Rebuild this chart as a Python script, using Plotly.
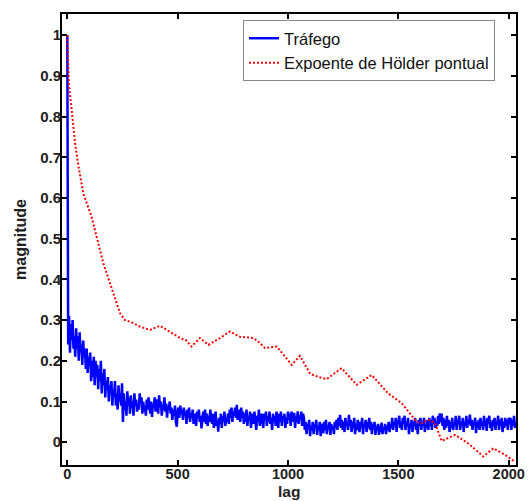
import plotly.graph_objects as go

# ---- data ----
blue_lag = [0, 1, 2, 3] + list(range(4, 2033, 4))
blue_val = [
    1.00, 0.51, 0.30, 0.31,
    0.24, 0.31, 0.22, 0.29, 0.25, 0.30, 0.23, 0.26, 0.21, 0.28,            # 4-40
    0.23, 0.26, 0.20, 0.27, 0.22, 0.24, 0.19, 0.25, 0.21, 0.23,            # 44-80
    0.18, 0.23, 0.17, 0.21, 0.19, 0.22, 0.15, 0.20, 0.16, 0.21,            # 84-120
    0.14, 0.20, 0.16, 0.19, 0.13, 0.18, 0.15, 0.20, 0.12, 0.17,            # 124-160
    0.14, 0.18, 0.11, 0.15, 0.13, 0.16, 0.10, 0.14, 0.12, 0.15,            # 164-200
    0.09, 0.13, 0.11, 0.15, 0.09, 0.12, 0.08, 0.14, 0.10, 0.12,            # 204-240
    0.09, 0.145, 0.05, 0.12, 0.08, 0.10, 0.065, 0.125, 0.09, 0.11,         # 244-280
    0.07, 0.115, 0.085, 0.10, 0.065, 0.12, 0.09, 0.105, 0.075, 0.095,      # 284-320
    0.08, 0.12, 0.095, 0.11, 0.07, 0.10, 0.075, 0.09, 0.065, 0.105,        # 324-360
    0.08, 0.11, 0.09, 0.07, 0.10, 0.062, 0.095, 0.085, 0.11, 0.075,        # 364-400
    0.09, 0.105, 0.07, 0.115, 0.085, 0.10, 0.065, 0.09, 0.08, 0.11,        # 404-440
    0.075, 0.095, 0.06, 0.09, 0.08, 0.10, 0.07, 0.085, 0.055, 0.08,        # 444-480
    0.065, 0.09, 0.05, 0.038, 0.075, 0.085, 0.06, 0.09, 0.07, 0.08,        # 484-520
    0.055, 0.085, 0.065, 0.075, 0.045, 0.08, 0.06, 0.085, 0.05, 0.07,      # 524-560
    0.06, 0.08, 0.045, 0.07, 0.055, 0.04, 0.075, 0.06, 0.08, 0.05,         # 564-600
    0.065, 0.034, 0.06, 0.075, 0.05, 0.08, 0.045, 0.07, 0.04, 0.065,       # 604-640
    0.05, 0.08, 0.06, 0.045, 0.07, 0.035, 0.06, 0.075, 0.04, 0.055,        # 644-680
    0.026, 0.06, 0.045, 0.07, 0.035, 0.065, 0.05, 0.075, 0.04, 0.06,       # 684-720
    0.05, 0.07, 0.045, 0.08, 0.06, 0.085, 0.05, 0.075, 0.065, 0.085,       # 724-760
    0.06, 0.092, 0.055, 0.08, 0.065, 0.05, 0.085, 0.06, 0.075, 0.045,      # 764-800
    0.07, 0.05, 0.08, 0.04, 0.065, 0.055, 0.075, 0.035, 0.06, 0.07,        # 804-840
    0.045, 0.075, 0.055, 0.03, 0.065, 0.05, 0.08, 0.04, 0.06, 0.07,        # 844-880
    0.05, 0.035, 0.07, 0.055, 0.075, 0.04, 0.065, 0.05, 0.075, 0.045,      # 884-920
    0.06, 0.03, 0.07, 0.05, 0.065, 0.04, 0.075, 0.055, 0.035, 0.07,        # 924-960
    0.05, 0.075, 0.04, 0.065, 0.055, 0.07, 0.035, 0.06, 0.045, 0.075,      # 964-1000
    0.055, 0.07, 0.04, 0.075, 0.06, 0.05, 0.072, 0.035, 0.065, 0.05,       # 1004-1040
    0.076, 0.045, 0.065, 0.055, 0.075, 0.04, 0.07, 0.06, 0.03, 0.05,       # 1044-1080
    0.02, 0.045, 0.035, 0.055, 0.015, 0.04, 0.03, 0.05, 0.02, 0.045,       # 1084-1120
    0.035, 0.055, 0.018, 0.04, 0.03, 0.05, 0.015, 0.045, 0.035, 0.022,     # 1124-1160
    0.05, 0.03, 0.055, 0.02, 0.04, 0.035, 0.05, 0.018, 0.045, 0.03,        # 1164-1200
    0.04, 0.02, 0.05, 0.035, 0.055, 0.03, 0.06, 0.04, 0.067, 0.035,        # 1204-1240
    0.055, 0.03, 0.05, 0.025, 0.06, 0.04, 0.045, 0.03, 0.067, 0.04,        # 1244-1280
    0.055, 0.025, 0.05, 0.035, 0.06, 0.02, 0.045, 0.03, 0.055, 0.04,       # 1284-1320
    0.025, 0.05, 0.035, 0.06, 0.02, 0.045, 0.04, 0.055, 0.025, 0.05,       # 1324-1360
    0.035, 0.06, 0.03, 0.05, 0.02, 0.045, 0.035, 0.05, 0.018, 0.04,        # 1364-1400
    0.03, 0.045, 0.018, 0.04, 0.025, 0.048, 0.02, 0.035, 0.03, 0.045,      # 1404-1440
    0.02, 0.04, 0.03, 0.05, 0.025, 0.045, 0.035, 0.06, 0.03, 0.05,         # 1444-1480
    0.04, 0.06, 0.025, 0.055, 0.045, 0.065, 0.035, 0.05, 0.03, 0.06,       # 1484-1520
    0.045, 0.065, 0.03, 0.05, 0.04, 0.06, 0.02, 0.045, 0.035, 0.055,       # 1524-1560
    0.025, 0.05, 0.04, 0.06, 0.03, 0.045, 0.02, 0.055, 0.04, 0.06,         # 1564-1600
    0.03, 0.05, 0.04, 0.06, 0.025, 0.045, 0.035, 0.055, 0.03, 0.06,        # 1604-1640
    0.04, 0.055, 0.03, 0.065, 0.045, 0.06, 0.035, 0.05, 0.04, 0.065,       # 1644-1680
    0.045, 0.071, 0.05, 0.07, 0.04, 0.06, 0.03, 0.055, 0.035, 0.065,       # 1684-1720
    0.04, 0.055, 0.025, 0.05, 0.035, 0.06, 0.03, 0.045, 0.04, 0.065,       # 1724-1760
    0.03, 0.055, 0.045, 0.065, 0.03, 0.05, 0.04, 0.06, 0.025, 0.05,        # 1764-1800
    0.04, 0.065, 0.035, 0.055, 0.045, 0.068, 0.04, 0.055, 0.03, 0.05,      # 1804-1840
    0.045, 0.06, 0.022, 0.05, 0.035, 0.055, 0.03, 0.06, 0.04, 0.05,        # 1844-1880
    0.03, 0.065, 0.04, 0.055, 0.028, 0.06, 0.045, 0.065, 0.035, 0.05,      # 1884-1920
    0.028, 0.055, 0.04, 0.06, 0.03, 0.05, 0.045, 0.065, 0.03, 0.055,       # 1924-1960
    0.04, 0.06, 0.025, 0.05, 0.035, 0.06, 0.04, 0.055, 0.03, 0.06,         # 1964-2000
    0.045, 0.06, 0.03, 0.055, 0.04, 0.065, 0.035, 0.05,                    # 2004-2032
]

red_lag = [0, 3, 7, 20, 35, 50, 73, 110, 135, 163, 208, 239, 261, 290, 329,
           375, 420, 450, 511, 540, 563, 601, 639, 692, 737, 782, 843, 870,
           896, 949, 1017, 1054, 1100, 1140, 1175, 1243, 1311, 1379, 1454,
           1515, 1583, 1606, 1636, 1666, 1696, 1757, 1817, 1885, 1930, 1983,
           2028]
red_val = [1.00, 0.93, 0.88, 0.816, 0.735, 0.68, 0.61, 0.554, 0.50, 0.44,
           0.367, 0.317, 0.30, 0.295, 0.284, 0.276, 0.286, 0.276, 0.256,
           0.25, 0.235, 0.256, 0.239, 0.256, 0.272, 0.259, 0.256, 0.245,
           0.231, 0.235, 0.19, 0.212, 0.168, 0.16, 0.155, 0.182, 0.141,
           0.165, 0.12, 0.096, 0.05, 0.047, 0.055, 0.047, 0.003, 0.018,
           -0.003, -0.035, -0.015, -0.031, -0.048]

x_ticks = [0, 500, 1000, 1500, 2000]
y_ticks = [0, 0.1, 0.2, 0.3, 0.4, 0.5, 0.6, 0.7, 0.8, 0.9, 1]
y_tick_text = ["0", "0.1", "0.2", "0.3", "0.4", "0.5", "0.6", "0.7", "0.8", "0.9", "1"]

assert len(blue_lag) == len(blue_val), (len(blue_lag), len(blue_val))
assert len(red_lag) == len(red_val)

FONT = "Liberation Sans, Arial, sans-serif"

fig = go.Figure()
fig.add_trace(go.Scatter(x=blue_lag, y=blue_val, mode="lines", name="Tráfego",
                         line=dict(color="#0000ff", width=2.5)))
fig.add_trace(go.Scatter(x=red_lag, y=red_val, mode="lines",
                         name="Expoente de Hölder pontual",
                         line=dict(color="#ff0000", width=2, dash="2px,2px")))

axis_common = dict(
    showgrid=False, zeroline=False, showline=True, linecolor="black",
    linewidth=2, mirror="allticks", ticks="inside", ticklen=5, tickwidth=1.5,
    tickcolor="black", automargin=False,
)

fig.update_xaxes(range=[-24, 2033], tickvals=x_ticks,
                 ticktext=[str(v) for v in x_ticks],
                 ticklabelstandoff=-5,
                 tickfont=dict(family=FONT, size=14.5, color="#222222", weight="bold"),
                 **axis_common)
fig.update_yaxes(range=[-0.056, 1.052], tickvals=y_ticks, ticktext=y_tick_text,
                 ticklabelstandoff=-4,
                 tickfont=dict(family=FONT, size=15, color="#222222", weight="bold"),
                 title=dict(text="magnitude", standoff=10,
                            font=dict(family=FONT, size=16, color="#222222", weight="bold")),
                 **axis_common)

# x-axis title, placed at the lower edge as in the reference
fig.add_annotation(text="lag", xref="paper", yref="paper", x=0.5, y=-0.0798,
                   xanchor="center", yanchor="bottom", showarrow=False,
                   borderpad=0,
                   font=dict(family=FONT, size=15.5, color="#222222", weight="bold"))

fig.update_layout(
    width=531, height=501,
    margin=dict(l=62, r=15, t=14, b=36),
    paper_bgcolor="white", plot_bgcolor="white",
    font=dict(family=FONT, color="#222222"),
    legend=dict(x=0.3987, y=0.9867, xanchor="left", yanchor="top",
                bgcolor="white", bordercolor="#888888", borderwidth=1,
                font=dict(family=FONT, size=16.5, color="#111111"),
                tracegroupgap=0),
    showlegend=True,
)

fig.write_html("out.html")
